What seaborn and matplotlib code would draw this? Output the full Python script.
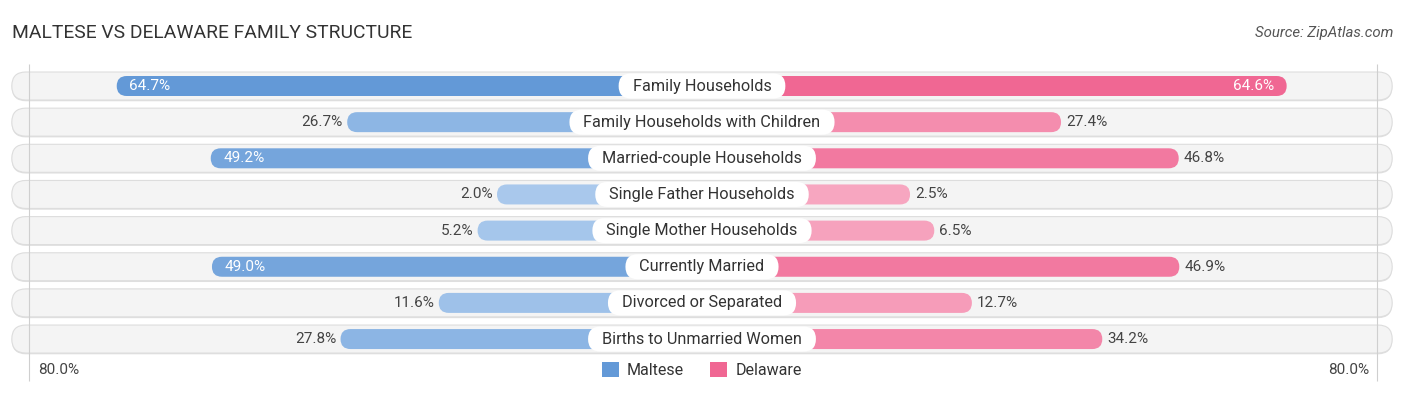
import numpy as np
import pandas as pd
import matplotlib
matplotlib.use('Agg')
import matplotlib.pyplot as plt
import seaborn as sns
from matplotlib.patches import FancyBboxPatch, Patch
from matplotlib.colors import to_rgb

categories = ['Family Households', 'Family Households with Children', 'Married-couple Households',
              'Single Father Households', 'Single Mother Households', 'Currently Married',
              'Divorced or Separated', 'Births to Unmarried Women']
maltese = [64.7, 26.7, 49.2, 2.0, 5.2, 49.0, 11.6, 27.8]
delaware = [64.6, 27.4, 46.8, 2.5, 6.5, 46.9, 12.7, 34.2]
series = ['Maltese', 'Delaware']
axis_max = 80.0

sns.set_theme(style='white')
plt.rcParams['font.family'] = ['Roboto', 'DejaVu Sans']

OFF = 31.8      # room under the centre label, in % units
PX = 6.065      # pixels per % unit
ROW = 36.15     # pixels per row
BLUE_D, BLUE_L = '#6399d7', '#abcaed'
PINK_D, PINK_L = '#f06793', '#f7a9c2'


def mix(light, dark, v):
    t = min(v / 65.0, 1.0)
    a, b = np.array(to_rgb(light)), np.array(to_rgb(dark))
    return tuple(a + (b - a) * t)


fig = plt.figure(figsize=(14.06, 3.95), dpi=100)
ax = fig.add_axes([0, 0, 1, 1])

df = pd.DataFrame({
    'cat': categories * 2,
    'x': [-(v + OFF) for v in maltese] + [v + OFF for v in delaware],
    'side': [series[0]] * len(categories) + [series[1]] * len(categories),
})
sns.barplot(data=df, x='x', y='cat', hue='side', dodge=False, orient='h',
            width=20 / ROW, ax=ax, legend=False, order=categories)

aspect = PX / ROW
# swap seaborn's rectangles for rounded pills
rects = list(ax.patches)
for p in rects:
    x, w = p.get_x(), p.get_width()
    y, h = p.get_y(), p.get_height()
    x0, w = min(x, x + w), abs(w)
    i = int(round(y + h / 2))
    left = x0 < 0
    v = maltese[i] if left else delaware[i]
    col = mix(BLUE_L, BLUE_D, v) if left else mix(PINK_L, PINK_D, v)
    p.remove()
    ax.add_patch(FancyBboxPatch((x0, y), w, h,
                                boxstyle='round,pad=0,rounding_size=%f' % (10 / PX),
                                mutation_aspect=aspect, fc=col, ec='none', zorder=3))

ax.set_xlim(-702 / PX, (1406 - 702) / PX)
ax.set_ylim((395 - 86) / ROW, -86 / ROW)
ax.axis('off')

# row backgrounds
bg_half = 113.8
bg_h = 28 / ROW
for i in range(len(categories)):
    ax.add_patch(FancyBboxPatch((-bg_half, i - bg_h / 2 + 0.035), 2 * bg_half, bg_h,
                                boxstyle='round,pad=0,rounding_size=%f' % (14 / PX),
                                mutation_aspect=aspect, fc='#e0e0e0', ec='none', zorder=0.8))
    ax.add_patch(FancyBboxPatch((-bg_half, i - bg_h / 2), 2 * bg_half, bg_h,
                                boxstyle='round,pad=0,rounding_size=%f' % (14 / PX),
                                mutation_aspect=aspect, fc='#f4f4f4', ec='#dddddd', lw=0.8, zorder=1))

ax.vlines([-(axis_max + OFF - 0.9), axis_max + OFF - 0.5], -0.6, 8.15,
          color='#cfcfcf', lw=0.8, zorder=1.5)

renderer = fig.canvas.get_renderer()
box_h = 25 / ROW
for i, cat in enumerate(categories):
    t = ax.text(0, i, cat, ha='center', va='center', fontsize=11.7, color='#333333', zorder=6)
    wpx = t.get_window_extent(renderer).width + 28
    wu = wpx / PX
    ax.add_patch(FancyBboxPatch((-wu / 2, i - box_h / 2), wu, box_h,
                                boxstyle='round,pad=0,rounding_size=%f' % (12.5 / PX),
                                mutation_aspect=aspect, fc='white', ec='none', zorder=5))
    m, d = maltese[i], delaware[i]
    if m > 48:
        ax.text(-(m + OFF) + 2.1, i, f'{m:.1f}%', ha='left', va='center',
                fontsize=11, color='white', zorder=6)
    else:
        ax.text(-(m + OFF) - 0.7, i, f'{m:.1f}%', ha='right', va='center',
                fontsize=11, color='#444444', zorder=6)
    if d > 48:
        ax.text(d + OFF - 2.0, i, f'{d:.1f}%', ha='right', va='center',
                fontsize=11, color='white', zorder=6)
    else:
        ax.text(d + OFF + 0.8, i, f'{d:.1f}%', ha='left', va='center',
                fontsize=11, color='#444444', zorder=6)

ax.text(-109.5, 7.856, f'{axis_max:.1f}%', ha='left', va='center', fontsize=11, color='#444444')
ax.text(110.0, 7.856, f'{axis_max:.1f}%', ha='right', va='center', fontsize=11, color='#444444')

handles = [Patch(fc=BLUE_D, ec='none', label=series[0]),
           Patch(fc=PINK_D, ec='none', label=series[1])]
fig.legend(handles=handles, loc='center', bbox_to_anchor=(0.499, 1 - 370 / 395), ncol=2,
           frameon=False, fontsize=11.5, handlelength=1.1, handleheight=1.1,
           handletextpad=0.5, columnspacing=1.6, labelcolor='#333333')

fig.text(12 / 1406, 1 - 33 / 395, 'MALTESE VS DELAWARE FAMILY STRUCTURE', ha='left', va='center',
         fontsize=13.9, color='#333333')
fig.text(1393 / 1406, 1 - 33 / 395, 'Source: ZipAtlas.com', ha='right', va='center',
         fontsize=10.8, color='#555555', style='italic')

fig.savefig('out.png', dpi=100)
